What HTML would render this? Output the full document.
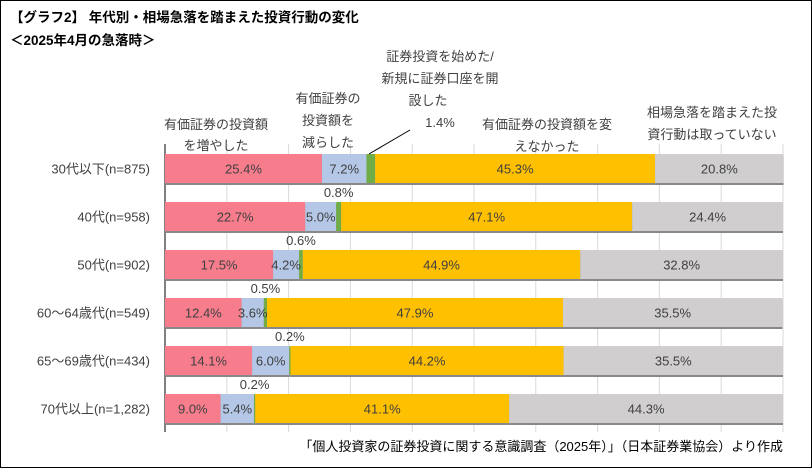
<!DOCTYPE html>
<html><head><meta charset="utf-8"><style>
body{margin:0;background:#fff}
svg text{font-family:"Liberation Sans","Noto Sans CJK JP",sans-serif;fill:#404040;font-size:13px}
</style></head><body>
<svg width="812" height="468">
<rect x="0.5" y="0.5" width="811" height="467" fill="#fff" stroke="#000"/>
<text x="10" y="22" style="font-weight:bold;fill:#000;font-size:13.5px">【グラフ2】 年代別・相場急落を踏まえた投資行動の変化</text>
<text x="10" y="45" style="font-weight:bold;fill:#000;font-size:13.5px">＜2025年4月の急落時＞</text>
<g id="grid"></g><g id="bars"></g><g id="labels"></g>
<g text-anchor="middle">
<text x="216" y="129">有価証券の投資額</text><text x="216" y="150">を増やした</text>
<text x="328" y="103">有価証券の</text><text x="328" y="125">投資額を</text><text x="328" y="147">減らした</text>
<text x="440" y="61">証券投資を始めた/</text><text x="440" y="83">新規に証券口座を開</text><text x="428" y="105">設した</text><text x="440" y="127">1.4%</text>
<text x="547" y="129">有価証券の投資額を変</text><text x="547" y="151">えなかった</text>
<text x="712" y="117">相場急落を踏まえた投</text><text x="712" y="139">資行動は取っていない</text>
</g>
<line x1="369" y1="154" x2="410" y2="130" stroke="#000" stroke-width="1"/>
<text x="783" y="451" text-anchor="end" style="fill:#000">「個人投資家の証券投資に関する意識調査（2025年）」（日本証券業協会）より作成</text>
</svg>
<script>
const categories=["30代以下(n=875)","40代(n=958)","50代(n=902)","60～64歳代(n=549)","65～69歳代(n=434)","70代以上(n=1,282)"];
const increased=[25.4,22.7,17.5,12.4,14.1,9.0];
const decreased=[7.2,5.0,4.2,3.6,6.0,5.4];
const started=[1.4,0.8,0.6,0.5,0.2,0.2];
const unchanged=[45.3,47.1,44.9,47.9,44.2,41.1];
const noAction=[20.8,24.4,32.8,35.5,35.5,44.3];
const series=[increased,decreased,started,unchanged,noAction];
const seriesNames=["increased","decreased","started","unchanged","no-action"];
const colors=["#f77d8d","#b4c7e7","#70ad47","#ffc000","#d0cece"];
const NS="http://www.w3.org/2000/svg";
const x0=165,x1=783,yTop=144,rowH=48,barH=29;
const xs=v=>x0+(x1-x0)*v/100;
const yc=i=>168.5+i*rowH;
function mk(t,a,p){const e=document.createElementNS(NS,t);for(const k in a)e.setAttribute(k,a[k]);p.appendChild(e);return e;}
const grid=document.getElementById('grid'),bars=document.getElementById('bars'),labels=document.getElementById('labels');
for(let k=1;k<=10;k++){const l=mk('line',{x1:xs(k*10),x2:xs(k*10),y1:yTop,y2:432,stroke:'#d9d9d9'},grid);

}
const ax=mk('line',{x1:x0,x2:x0,y1:yTop,y2:432,stroke:'#000'},grid);


categories.forEach((c,i)=>{
 const t=mk('text',{x:150,y:yc(i)+5,'text-anchor':'end'},labels);t.textContent=c;
 
 
 let cum=0;
 series.forEach((s,j)=>{
  const v=s[i],a=xs(cum),b=xs(cum+v);
  mk('rect',{x:a,y:yc(i)-barH/2+2,width:b-a,height:barH,fill:'#888'},bars);
  const r=mk('rect',{x:a,y:yc(i)-barH/2,width:b-a,height:barH,fill:colors[j]},bars);
  
  
  if(j!==2){const tl=mk('text',{x:(a+b)/2,y:yc(i)+5,'text-anchor':'middle'},labels);tl.textContent=v.toFixed(1)+'%';
   
   }
  else if(i>0){const tl=mk('text',{x:(a+b)/2,y:yc(i)-barH/2-5,'text-anchor':'middle'},labels);tl.textContent=v.toFixed(1)+'%';
   
   }
  cum+=v;
 });
});
</script>
</body></html>
